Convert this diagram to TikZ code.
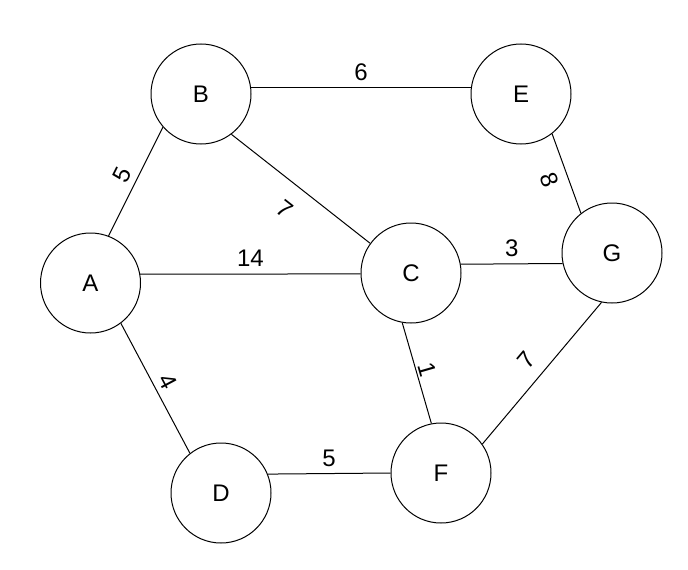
\documentclass[tikz,border=0pt]{standalone}
\usepackage{fontspec}
\setmainfont{Liberation Sans}

\begin{document}
\begin{tikzpicture}[x=0.75pt, y=0.75pt, line width=0.75pt, vertex/.style = {draw, circle, minimum size=75pt, inner sep=0pt, font=\fontsize{18}{21}\selectfont}, weight/.style = {font=\fontsize{18}{21}\selectfont, inner sep=0pt}] 
\useasboundingbox (0,0) rectangle (688,569);
\node[vertex] (A) at (90.5,286) {A};
\node[vertex] (B) at (201,475) {B};
\node[vertex] (E) at (521,475) {E};
\node[vertex] (C) at (411,296) {C};
\node[vertex] (G) at (612,316) {G};
\node[vertex] (D) at (221,76) {D};
\node[vertex] (F) at (441,96) {F};
\draw (A.69) -- (B.221) node [midway, sloped, above=5pt, weight] {5};
\draw (B.7) -- (E.173) node [midway, above=5pt, weight] {6};
\draw (B.-53) -- (C.144.5) node [midway, sloped, below=13pt, weight] {7};
\draw (A.10) -- (C.181) node [midway, above=5pt, weight] {14};
\draw (E.-52) -- (G.128) node [midway, sloped, below=7pt, weight] {8};
\draw (C.10) -- (G.192) node [midway, above=5pt, weight] {3};
\draw (A.-53) -- (D.128) node [midway, sloped, above=4pt, weight] {4};
\draw (C.260) -- (F.101.5) node [midway, sloped, above=2pt, weight] {1};
\draw (F.35.5) -- (G.258) node [midway, sloped, above=9pt, weight] {7};
\draw (D.22) -- (F.180) node [midway, above=5pt, weight] {5};
\end{tikzpicture}
\end{document}
